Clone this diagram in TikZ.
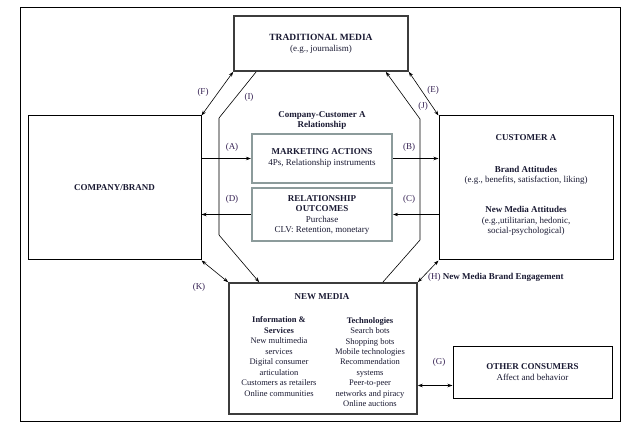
\documentclass[tikz,border=0pt]{standalone}
\usepackage{fontspec}
\setmainfont{Liberation Serif}
\usetikzlibrary{arrows.meta,calc}
\definecolor{txt}{RGB}{25,25,50}
\definecolor{lbl}{RGB}{50,30,80}
\definecolor{grayframe}{RGB}{140,155,155}
\definecolor{octgray}{RGB}{160,160,160}
\definecolor{darkframe}{RGB}{60,60,60}
\begin{document}
\begin{tikzpicture}[x=1pt,y=-1pt,
  font=\fontsize{9}{10.5}\selectfont, text=txt,
  plainbox/.style={draw=black, line width=1pt, inner sep=0pt, rectangle},
  heavybox/.style={draw=darkframe, line width=1.6pt, inner sep=0pt, rectangle},
  graybox/.style={draw=grayframe, line width=2.2pt, inner sep=0pt, rectangle},
  txtnode/.style={inner sep=0pt, align=center},
  lab/.style={text=lbl, inner sep=0pt},
  conn/.style={line width=0.6pt},
  arr/.style={conn, -{Stealth[length=5pt,width=3.5pt]}},
  darr/.style={conn, {Stealth[length=5pt,width=3.5pt]}-{Stealth[length=5pt,width=3.5pt]}}]
\useasboundingbox (0,0) rectangle (633,433);
\node[draw=black, line width=0.9pt, inner sep=0pt, minimum width=600pt, minimum height=414pt] (frame) at (320,214) {};

% boxes
\node[heavybox, minimum width=174pt, minimum height=55pt] (TM) at (321,43.5) {};
\node[plainbox, minimum width=173pt, minimum height=144pt] (CB) at (114.5,188) {};
\node[plainbox, minimum width=174pt, minimum height=144pt] (CA) at (526,188) {};
\node[graybox, minimum width=140pt, minimum height=49pt] (MA) at (322,158.5) {};
\node[graybox, minimum width=140pt, minimum height=53pt] (RO) at (322,214.5) {};
\node[heavybox, minimum width=188pt, minimum height=131pt] (NM) at (323,348.5) {};
\node[plainbox, minimum width=159pt, minimum height=51pt] (OC) at (532.5,372.5) {};

% texts
\node[txtnode] (tmtxt) at (321,44) {\fontsize{9.5}{12}\selectfont\textbf{TRADITIONAL MEDIA}\\(e.g., journalism)};
\node[txtnode] (cbtxt) at (114.5,188) {\textbf{COMPANY/BRAND}};
\node[txtnode] (reltxt) at (322,120.5) {\textbf{Company-Customer A}\\\textbf{Relationship}};
\node[txtnode] (matxt) at (322,158) {\fontsize{9}{12}\selectfont\textbf{MARKETING ACTIONS}\\4Ps, Relationship instruments};
\node[txtnode] (rotxt) at (322,215) {\fontsize{9}{12}\selectfont\textbf{RELATIONSHIP}\\\textbf{OUTCOMES}\\Purchase\\CLV: Retention, monetary};
\node[txtnode] (catitle) at (526,138) {\textbf{CUSTOMER A}};
\node[txtnode] (catt1) at (526,175.5) {\textbf{Brand Attitudes}\\(e.g., benefits, satisfaction, liking)};
\node[txtnode] (catt2) at (526,221) {\textbf{New Media Attitudes}\\(e.g.,utilitarian, hedonic,\\social-psychological)};
\node[txtnode] (nmtitle) at (322,297) {\textbf{NEW MEDIA}};
\node[txtnode, font=\fontsize{8.5}{10.45}\selectfont] (nmleft) at (279,356.5) {\textbf{Information \&}\\\textbf{Services}\\New multimedia\\services\\Digital consumer\\articulation\\Customers as retailers\\Online communities};
\node[txtnode, font=\fontsize{8.5}{10.45}\selectfont] (nmright) at (370,362) {\textbf{Technologies}\\Search bots\\Shopping bots\\Mobile technologies\\Recommendation\\systems\\Peer-to-peer\\networks and piracy\\Online auctions};
\node[txtnode] (octxt) at (532.5,372) {\textbf{OTHER CONSUMERS}\\Affect and behavior};

% octagon
\coordinate (oTL) at (219,118);
\coordinate (oBL) at (219,235);
\coordinate (oTR) at (420,119);
\coordinate (oBR) at (420,240);
\draw[conn] ($(TM.south west)+(23,0)$) -- (oTL);
\draw[conn, draw=octgray, line width=1.2pt] (oTL) -- (oBL);
\draw[arr] (oBL) -- ($(NM.north west)+(31,0)$);
\draw[arr] ($(NM.north east)+(-35,0)$) -- (oBR) -- (oTR) -- ($(TM.south east)+(-23,0)$);

% connectors
\draw[darr] (CB.north east) -- (TM.south west);
\draw[darr] (TM.south east) -- (CA.north west);
\draw[darr] (CB.south east) -- (NM.north west);
\draw[darr] (NM.north east) -- (CA.south west);
\draw[arr] (MA.west -| CB.east) -- (MA.west);
\draw[arr] (MA.east) -- (MA.east -| CA.west);
\draw[arr] (RO.east -| CA.west) -- (RO.east);
\draw[arr] (RO.west) -- (RO.west -| CB.east);
\coordinate (gpt) at ($(OC.south west)!0.25!(OC.north west)$);
\draw[darr] (NM.east |- gpt) -- (gpt);

% labels
\node[lab] (lA) at (232,147) {(A)};
\node[lab] (lB) at (409,147) {(B)};
\node[lab] (lC) at (409,199) {(C)};
\node[lab] (lD) at (232,199) {(D)};
\node[lab] (lE) at (433,90) {(E)};
\node[lab] (lF) at (203,92) {(F)};
\node[lab] (lG) at (439,362) {(G)};
\node[lab] (lI) at (249,97) {(I)};
\node[lab] (lJ) at (423,106) {(J)};
\node[lab] (lK) at (199,287) {(K)};
\node[lab, anchor=west] (lH) at (428,277) {(H) \textcolor{txt}{\textbf{New Media Brand Engagement}}};
\end{tikzpicture}
\end{document}
